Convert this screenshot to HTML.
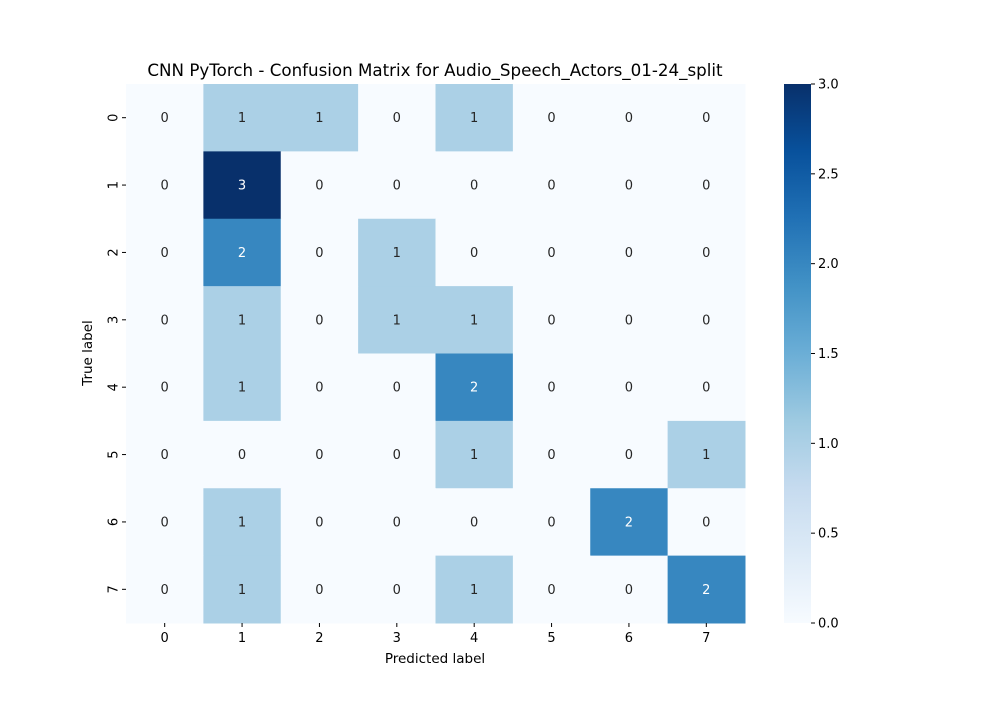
<!DOCTYPE html>
<html><head><meta charset="utf-8"><style>
body{margin:0;background:#fff;font-family:"DejaVu Sans","Liberation Sans",sans-serif}
svg text{font-family:"DejaVu Sans","Liberation Sans",sans-serif}
</style></head><body>
<svg id="c" width="1000" height="700">
<defs><linearGradient id="g" x1="0" y1="1" x2="0" y2="0">
<stop offset="0" stop-color="#f7fbff"/><stop offset="0.125" stop-color="#deebf7"/><stop offset="0.25" stop-color="#c6dbef"/><stop offset="0.375" stop-color="#9ecae1"/><stop offset="0.5" stop-color="#6baed6"/><stop offset="0.625" stop-color="#4292c6"/><stop offset="0.75" stop-color="#2171b5"/><stop offset="0.875" stop-color="#08519c"/><stop offset="1" stop-color="#08306b"/>
</linearGradient></defs>
<text x="435" y="76" font-size="16.7" text-anchor="middle">CNN PyTorch - Confusion Matrix for Audio_Speech_Actors_01-24_split</text>
<text x="435" y="663" font-size="13.5" text-anchor="middle">Predicted label</text>
<text x="92" y="353" font-size="13.5" text-anchor="middle" transform="rotate(-90 92 353)">True label</text>
<g id="cells"></g>
<rect x="784" y="84" width="27" height="539" fill="url(#g)"/>
<g id="cb"></g>
</svg>
<script>
const labels=["0","1","2","3","4","5","6","7"];
const matrix=[
[0,1,1,0,1,0,0,0],
[0,3,0,0,0,0,0,0],
[0,2,0,1,0,0,0,0],
[0,1,0,1,1,0,0,0],
[0,1,0,0,2,0,0,0],
[0,0,0,0,1,0,0,1],
[0,1,0,0,0,0,2,0],
[0,1,0,0,1,0,0,2]];
const cbTicks=[0,0.5,1,1.5,2,2.5,3];
const vmax=3;
const X0=126,X1=745,Y0=84,Y1=623;
const stops=["#f7fbff","#deebf7","#c6dbef","#9ecae1","#6baed6","#4292c6","#2171b5","#08519c","#08306b"];
function hex(h){return [1,3,5].map(i=>parseInt(h.substr(i,2),16));}
function color(v){const t=v/vmax*8,i=Math.min(7,Math.floor(t)),f=t-i;const a=hex(stops[i]),b=hex(stops[i+1]);return "rgb("+a.map((x,k)=>Math.round(x+(b[k]-x)*f)).join(",")+")";}
const NS="http://www.w3.org/2000/svg";
const n=labels.length,cw=(X1-X0)/n,ch=(Y1-Y0)/n;
const xs=i=>X0+i*cw,ys=j=>Y0+j*ch;
const g=document.getElementById('cells');
function mk(tag,at,p){const e=document.createElementNS(NS,tag);for(const k in at)e.setAttribute(k,at[k]);(p||g).appendChild(e);return e;}
matrix.forEach((row,r)=>row.forEach((v,c)=>{
const rc=mk('rect',{x:xs(c),y:ys(r),width:cw+0.5,height:ch+0.5,fill:color(v)});


const t=mk('text',{x:xs(c)+cw/2,y:ys(r)+ch/2+4.5,'font-size':13,'text-anchor':'middle',fill:v/vmax>0.5?'#fff':'#262626'});
t.textContent=v;


}));
labels.forEach((l,i)=>{
mk('line',{x1:xs(i)+cw/2,x2:xs(i)+cw/2,y1:Y1,y2:Y1+4,stroke:'#000'});
const t=mk('text',{x:xs(i)+cw/2,y:Y1+19,'font-size':13,'text-anchor':'middle'});t.textContent=l;


const yc=ys(i)+ch/2;
mk('line',{x1:X0-4,x2:X0,y1:yc,y2:yc,stroke:'#000'});
const t2=mk('text',{x:X0-13,y:yc,'font-size':13,'text-anchor':'middle',transform:'rotate(-90 '+(X0-13)+' '+yc+')',dy:'0.35em'});t2.textContent=l;


});
const cb=document.getElementById('cb');
cbTicks.forEach(v=>{const y=Y1-(Y1-Y0)*v/vmax;
mk('line',{x1:811,x2:815,y1:y,y2:y,stroke:'#000'},cb);
const t=mk('text',{x:818,y:y+4.5,'font-size':13},cb);t.textContent=v.toFixed(1);


});
</script>
</body></html>
